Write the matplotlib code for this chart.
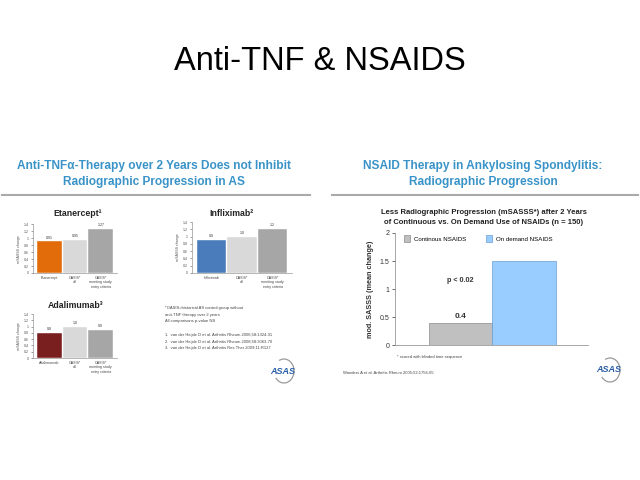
import matplotlib
matplotlib.use("Agg")
import matplotlib.pyplot as plt
from matplotlib.patches import Arc
from matplotlib.ticker import FuncFormatter

plt.rcParams.update({"font.family": ["Liberation Sans", "DejaVu Sans"]})

# ---- data ----
eta_groups = ["Etanercept", "OASIS*\nall", "OASIS*\nmeeting study\nentry criteria"]
eta_values = [0.91, 0.95, 1.27]
eta_labels = ["0.91", "0.95", "1.27"]

inf_groups = ["Infliximab", "OASIS*\nall", "OASIS*\nmeeting study\nentry criteria"]
inf_values = [0.9, 1.0, 1.2]
inf_labels = ["0.9", "1.0", "1.2"]

ada_groups = ["Adalimumab", "OASIS*\nall", "OASIS*\nmeeting study\nentry criteria"]
ada_values = [0.8, 1.0, 0.9]
ada_labels = ["0.8", "1.0", "0.9"]

nsaid_groups = ["Continous NSAIDS", "On demand NSAIDS"]
nsaid_values = [0.4, 1.5]

mini_ticks = [0, 0.2, 0.4, 0.6, 0.8, 1, 1.2, 1.4]
nsaid_ticks = [0, 0.5, 1, 1.5, 2]

refs_left = [
    "*OASIS=historical AS control group without",
    "anti-TNF therapy over 2 years",
    "All comparisons p-value NS",
    "",
    "1.  van der Heijde D et al. Arthritis Rheum 2006;58:1324-31",
    "2.  van der Heijde D et al. Arthritis Rheum 2008;58:3063-70",
    "3.  van der Heijde D et al. Arthritis Res Ther 2009;11:R127",
]

HEAD = "#3a93c8"
W, H = 640, 480

fig = plt.figure(figsize=(6.4, 4.8), dpi=100)
bg = fig.add_axes([0, 0, 1, 1])
bg.set_xlim(0, W); bg.set_ylim(H, 0); bg.axis("off")


def px_axes(x0, y0, x1, y1):
    return fig.add_axes([x0 / W, 1 - y1 / H, (x1 - x0) / W, (y1 - y0) / H])


def mini_chart(box, groups, values, labels, colors, title, title_xy):
    ax = px_axes(*box)
    x = range(len(values))
    bars = ax.bar(x, values, width=0.96, color=colors, edgecolor="white", lw=0.3)
    for b, lab in zip(bars, labels):
        ax.text(b.get_x() + b.get_width() / 2, b.get_height() + 0.05, lab,
                ha="center", va="bottom", fontsize=2.6, color="#333333")
    ax.set_ylim(0, 1.4)
    ax.set_yticks(mini_ticks)
    ax.yaxis.set_major_formatter(FuncFormatter(lambda v, p: f"{v:g}"))
    ax.set_xticks(list(x))
    ax.set_xticklabels(groups, fontsize=2.6, color="#444444", linespacing=1.2, va="top")
    ax.tick_params(axis="x", length=0, pad=2)
    ax.tick_params(axis="y", length=1.5, width=0.4, labelsize=2.6, pad=1.5, colors="#555555")
    ax.set_ylabel("mSASSS change", fontsize=2.6, color="#555555", labelpad=2)
    for s in ["top", "right"]:
        ax.spines[s].set_visible(False)
    for s in ["left", "bottom"]:
        ax.spines[s].set_color("#999999"); ax.spines[s].set_linewidth(0.5)
    bg.text(*title_xy, title, ha="center", va="center", fontsize=6.3,
            fontweight="bold", color="#222222")
    return ax


def asas_logo(x, y):
    bg.add_patch(Arc((x + 1, y), 20, 24, theta1=-115, theta2=140,
                     color="#9a9a9a", lw=0.9))
    bg.text(x, y, "ASAS", ha="center", va="center", fontsize=6.5,
            fontweight="bold", style="italic", color="#2a5fa8")


# main title
bg.text(320, 62, "Anti-TNF & NSAIDS", ha="center", va="center", fontsize=23.5, color="black")

# ---- left slide ----
bg.text(154, 166, "Anti-TNF\u03b1-Therapy over 2 Years Does not Inhibit", ha="center",
        va="center", fontsize=8.6, fontweight="bold", color=HEAD)
bg.text(154, 182, "Radiographic Progression in AS", ha="center", va="center",
        fontsize=8.6, fontweight="bold", color=HEAD)
bg.plot([2, 310], [195, 195], color="#aaaaaa", lw=1.5)

mini_chart((33, 224.5, 117, 273), eta_groups, eta_values, eta_labels,
           ["#e36c0a", "#d9d9d9", "#a6a6a6"], "Etanercept\u00b9", (78, 213))
mini_chart((192, 222, 292, 273), inf_groups, inf_values, inf_labels,
           ["#4a7bbb", "#d9d9d9", "#a6a6a6"], "Infliximab\u00b2", (231, 213))
mini_chart((33, 314, 117, 358), ada_groups, ada_values, ada_labels,
           ["#7a1f1f", "#d9d9d9", "#a6a6a6"], "Adalimumab\u00b3", (76, 305))

for i, line in enumerate(refs_left):
    bg.text(165, 308 + i * 6.7, line, ha="left", va="center", fontsize=3, color="#444444")
asas_logo(283, 371)

# ---- right slide ----
bg.text(483, 166, "NSAID Therapy in Ankylosing Spondylitis:", ha="center",
        va="center", fontsize=8.6, fontweight="bold", color=HEAD)
bg.text(483, 182, "Radiographic Progression", ha="center", va="center",
        fontsize=8.6, fontweight="bold", color=HEAD)
bg.plot([332, 638], [195, 195], color="#aaaaaa", lw=1.5)

bg.text(484, 212, "Less Radiographic Progression (mSASSS*) after 2 Years",
        ha="center", va="center", fontsize=5.5, fontweight="bold", color="#222222")
bg.text(484, 223, "of Continuous vs. On Demand Use of NSAIDs (n = 150)",
        ha="center", va="center", fontsize=5.5, fontweight="bold", color="#222222")

ax = px_axes(395, 233, 588, 345)
bars = ax.bar(range(len(nsaid_values)), nsaid_values, width=1.0,
              color=["#c0c0c0", "#99ccff"], edgecolor=["#8c8c8c", "#6a9fd0"], lw=0.5)
ax.set_xlim(-1.03, 2.01)
ax.set_ylim(0, 2)
ax.set_yticks(nsaid_ticks)
ax.yaxis.set_major_formatter(FuncFormatter(lambda v, p: f"{v:g}"))
ax.set_xticks([])
ax.tick_params(axis="y", length=2, width=0.5, labelsize=5, pad=2, colors="#333333")
ax.set_ylabel("mod. SASSS (mean change)", fontsize=5.2, fontweight="bold",
              color="#333333", labelpad=4)
for s in ["top", "right"]:
    ax.spines[s].set_visible(False)
for s in ["left", "bottom"]:
    ax.spines[s].set_color("#999999"); ax.spines[s].set_linewidth(0.6)
ax.text(0, nsaid_values[0] + 0.05, f"{nsaid_values[0]:g}", ha="center", va="bottom",
        fontsize=6, fontweight="bold", color="#333333")
ax.text(0, 1.16, "p < 0.02", ha="center", va="center", fontsize=5.2,
        fontweight="bold", color="#333333")
ax.legend(bars, nsaid_groups, ncol=2, loc="upper left", bbox_to_anchor=(0.02, 1.03),
          frameon=False, fontsize=4.4, handlelength=1.0, handleheight=1.3,
          columnspacing=3.2, handletextpad=0.6)

bg.text(397, 357, "* scored with blinded time sequence", ha="left", va="center",
        fontsize=3, color="#444444")
bg.text(343, 373, "Wanders A et al. Arthritis Rheum 2005;52:1756-65", ha="left",
        va="center", fontsize=3, color="#444444")
asas_logo(609, 370)

fig.savefig("out.png", dpi=100)
